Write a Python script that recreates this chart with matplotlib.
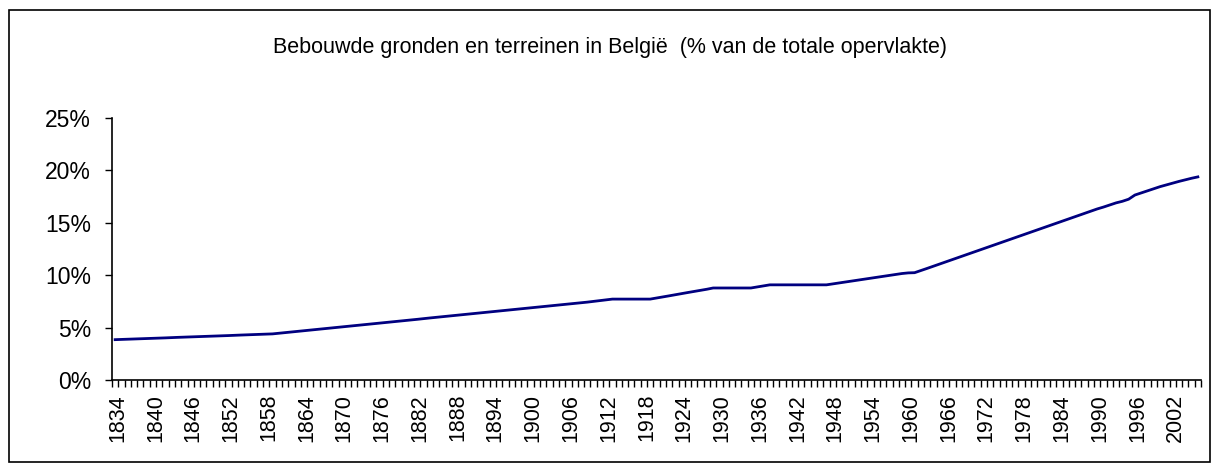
import matplotlib
matplotlib.use('Agg')
import matplotlib.pyplot as plt
from matplotlib.patches import Rectangle
import numpy as np

plt.rcParams['font.family'] = ['Liberation Sans', 'DejaVu Sans']

years = list(range(1834, 2007))

pct = [
    3.85, 3.87, 3.89, 3.92, 3.94, 3.96, 3.98, 4.00, 4.02, 4.05,
    4.07, 4.09, 4.11, 4.13, 4.16, 4.18, 4.20, 4.22, 4.24, 4.27,
    4.29, 4.31, 4.33, 4.35, 4.38, 4.40, 4.46, 4.52, 4.58, 4.64,
    4.70, 4.76, 4.82, 4.88, 4.94, 5.00, 5.07, 5.13, 5.19, 5.25,
    5.31, 5.37, 5.43, 5.49, 5.55, 5.61, 5.67, 5.73, 5.79, 5.86,
    5.92, 5.98, 6.04, 6.10, 6.16, 6.22, 6.28, 6.34, 6.40, 6.46,
    6.52, 6.58, 6.65, 6.71, 6.77, 6.83, 6.89, 6.95, 7.01, 7.07,
    7.13, 7.19, 7.25, 7.31, 7.37, 7.43, 7.50, 7.56, 7.65, 7.72,
    7.72, 7.72, 7.72, 7.72, 7.72, 7.72, 7.82, 7.93, 8.03, 8.14,
    8.24, 8.35, 8.45, 8.56, 8.66, 8.78, 8.78, 8.78, 8.78, 8.78,
    8.78, 8.78, 8.88, 8.98, 9.08, 9.08, 9.08, 9.08, 9.08, 9.08,
    9.08, 9.08, 9.08, 9.08, 9.17, 9.26, 9.35, 9.44, 9.53, 9.62,
    9.71, 9.80, 9.89, 9.98, 10.07, 10.16, 10.22, 10.24, 10.44, 10.65,
    10.86, 11.07, 11.28, 11.49, 11.70, 11.91, 12.12, 12.33, 12.54, 12.75,
    12.96, 13.17, 13.38, 13.59, 13.80, 14.01, 14.22, 14.43, 14.64, 14.85,
    15.06, 15.27, 15.48, 15.69, 15.90, 16.11, 16.32, 16.50, 16.70, 16.90,
    17.05, 17.25, 17.65, 17.85, 18.05, 18.25, 18.45, 18.62, 18.78, 18.95,
    19.10, 19.25, 19.38,
]

yticks = [0, 5, 10, 15, 20, 25]
title = 'Bebouwde gronden en terreinen in België  (% van de totale opervlakte)'

fig = plt.figure(figsize=(12.2, 4.7), dpi=100)
ax = fig.add_axes([112 / 1220, 1 - 380 / 470, (1201 - 112) / 1220, (380 - 118) / 470])

x = np.arange(len(years))
ax.plot(x, pct, color='#000080', linewidth=2.0)

ax.set_xlim(-0.5, len(years) - 0.5)
ax.set_ylim(0, 25)

ax.set_yticks(yticks)
ax.set_yticklabels([f'{v}%' for v in yticks], fontsize=16.5)
ax.tick_params(axis='y', direction='out', length=5, width=1, pad=10)

ax.set_xticks(x[::6] + 0.4)
ax.set_xticklabels([str(y) for y in years[::6]], rotation=90, fontsize=15.5)
ax.set_xticks(np.arange(-0.5, len(years)), minor=True)
ax.tick_params(axis='x', which='major', length=0, pad=10)
ax.tick_params(axis='x', which='minor', direction='out', length=5, width=1)

for s in ['top', 'right']:
    ax.spines[s].set_visible(False)
for s in ['left', 'bottom']:
    ax.spines[s].set_linewidth(1.2)

fig.text(610 / 1220, 1 - 47 / 470, title, ha='center', va='center', fontsize=15.5)

fig.patches.append(Rectangle((9 / 1220, 1 - 462 / 470), 1201 / 1220, 452 / 470,
                             transform=fig.transFigure, fill=False,
                             edgecolor='black', linewidth=1.2))

fig.savefig('out.png', dpi=100)
plt.close()
